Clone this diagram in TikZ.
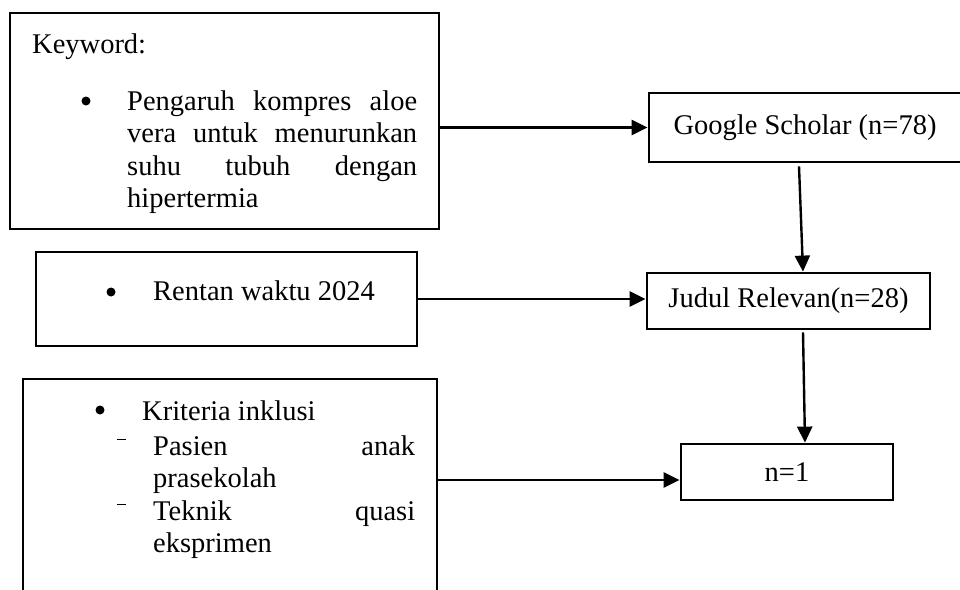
\documentclass[tikz,border=0pt]{standalone}
\usepackage{fontspec}
\setmainfont{Liberation Serif}
\usetikzlibrary{arrows.meta,calc}

\tikzset{
  box/.style={draw,line width=2.8pt,inner sep=0pt},
  arr/.style={line width=2.4pt,-{Triangle[length=16pt,width=15pt]}},
  txt/.style={inner sep=0pt,anchor=base west},
}
\newcommand{\subdash}{\rule[15pt]{9pt}{1.2pt}}

\begin{document}
\begin{tikzpicture}[x=1pt,y=-1pt,every node/.style={font=\fontsize{28.5}{32.5}\selectfont}]
                        \useasboundingbox (0,0) rectangle (960,589);
                        \clip (0,0) rectangle (960,589);
                        % left column
                        \node[box,minimum width=429pt,minimum height=216pt] (K) at (224.5,121) {};
                        \node[txt] (Khead) at (32,53) {Keyword:};
                        \fill (86,101) circle (4.5pt);
                        \node[txt,text width=290pt,align=justify] (Ktext) at (127,110) {Pengaruh kompres aloe\linebreak vera untuk menurunkan\linebreak suhu tubuh dengan\linebreak hipertermia};
                        \node[box,minimum width=381pt,minimum height=94pt] (R) at (226.5,299) {};
                        \fill (111,292) circle (4.5pt);
                        \node[txt] (Rtext) at (153,300) {Rentan waktu 2024};
                        \node[box,minimum width=414pt,minimum height=241pt] (C) at (230,499.5) {};
                        \fill (100,410) circle (4.5pt);
                        \node[txt] (Chead) at (142,420) {Kriteria inklusi};
                        \node[txt] (Cdash1) at (117,455) {\subdash};
                        \node[txt,text width=262pt,align=justify] (Cone) at (153,455) {Pasien anak\linebreak prasekolah};
                        \node[txt] (Cdash2) at (117,520) {\subdash};
                        \node[txt,text width=262pt,align=justify] (Ctwo) at (153,520) {Teknik quasi\linebreak eksprimen};
                        % right column
                        \node[box,minimum width=312pt,minimum height=69pt] (G) at (805,127.5) {Google Scholar (n=78)};
                        \node[box,minimum width=283pt,minimum height=56pt] (J) at (788.5,301) {Judul Relevan(n=28)};
                        \node[box,minimum width=212pt,minimum height=56pt] (N) at (787,472) {n=1};
                        \coordinate (Clvl) at (0,480);
                        % arrows
                        \draw[arr] (K.east |- G.west) -- (G.west);
                        \draw[arr] (R.east) -- (R.east -| J.west);
                        \draw[arr] (C.east |- Clvl) -- (N.west |- Clvl);
                        \draw[arr] ($(G.south)+(-6,3)$) -- ($(J.north)+(14.5,0)$);
                        \draw[arr] ($(J.south)+(14.5,2)$) -- ($(N.north)+(18,0)$);
                    \end{tikzpicture}
\end{document}
